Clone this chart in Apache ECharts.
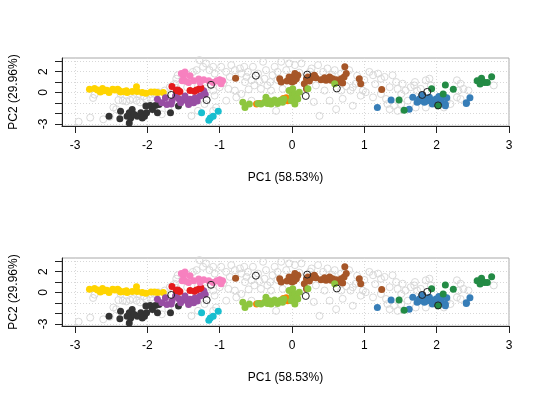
<!DOCTYPE html>
<html><head><meta charset="utf-8">
<script src="https://cdn.jsdelivr.net/npm/echarts@6/dist/echarts.min.js"></script>
<style>html,body{margin:0;padding:0;background:#fff}#c{width:540px;height:400px}</style>
</head><body><div id="c"></div>
<script>
const xTicks = [-3,-2,-1,0,1,2,3];
const yTicks = [-3,-2,-1,0,1,2,3];
const yLabelsShown = [-3,0,2];
const xName = 'PC1 (58.53%)';
const yName = 'PC2 (29.96%)';

const gray = [
[-2.95,-2.79],[-2.79,-2.40],[-2.75,-0.52],[-2.73,-0.2],[-2.61,-2.56],[-2.52,-2.33],[-2.47,-1.43],[-2.43,-1.59],[-2.40,-0.72],[-2.37,-0.14],[-2.34,-0.78],[-2.29,-0.85],[-2.24,-0.72],[-2.20,-0.62],[-2.15,-0.78],[-2.11,-0.14],[-2.10,-0.94],[-2.01,-0.62],[-1.96,-0.14],[-1.90,-0.14],[-1.85,0.03],[-1.76,0.19],[-1.69,0.51],[-1.62,0.84],[-1.60,1.32],[-1.58,1.65],[-1.48,1.65],[-1.44,1.49],[-1.37,1.97],[-1.32,2.14],[-1.28,3.1],[-1.23,2.46],[-1.19,2.78],[-1.14,2.14],[-1.09,2.46],[-1.07,1.81],[-1.12,0.68],[-1.09,0.19],[-1.07,-0.29],[-1.39,-2.23],[-1.30,-1.75],[-1.21,-1.10],[-1.09,-1.75],[-1.05,-1.43],[-1.71,-1.59],[-1.80,-2.08],
[-0.98,2.46],[-0.91,1.97],[-0.86,1.49],[-0.84,2.62],[-0.79,2.14],[-0.72,2.30],[-0.70,1.81],[-0.66,2.46],[-0.63,1.49],[-0.61,1.97],[-0.56,1.17],[-0.54,2.46],[-0.52,0.68],[-0.47,1.81],[-0.43,0.35],[-0.40,2.94],[-0.38,1.32],[-0.36,2.14],[-0.34,0.68],[-0.29,0.19],[-0.27,1.65],[-0.24,2.46],[-0.20,1.97],[-0.15,2.94],[-0.13,0.35],[-0.08,2.14],[-0.04,2.78],[-0.79,0.19],[-0.77,-0.46],[-0.70,-0.14],[-0.88,0.35],[-0.91,-0.78],[-0.56,-0.78],[-0.22,-1.75],
[0.04,2.62],[0.13,2.78],[0.27,2.30],[0.36,2.62],[0.43,1.97],[0.49,2.30],[0.59,2.14],[0.68,1.81],[0.79,2.14],[0.84,0.51],[0.88,0.84],[0.98,0.19],[1.02,0.03],[0.81,0.19],[0.33,0.68],[0.45,0.19],[0.52,-0.78],[0.61,-1.59],[0.84,-1.26],[0.38,-2.23],[0.68,0.19],
[1.07,1.97],[1.12,1.65],[1.19,1.81],[1.23,1.32],[1.28,1.49],[1.35,0.51],[1.39,1.65],[1.44,1.0],[1.46,0.35],[1.51,-0.14],[1.53,0.84],[1.57,0.19],[1.60,-0.78],[1.64,0.51],[1.69,0.68],[1.73,0.19],[1.78,0.35],[1.85,1.17],[1.90,1.32],[1.92,0.68],[1.12,-0.46],[1.23,-0.14],[1.30,-0.62],[1.32,-1.10],[1.35,-1.59],[1.41,-1.26],[1.46,-1.75],[1.51,-1.10],[1.71,-1.43],[2.10,-1.43],[1.85,-1.43],
[2.28,1.17],[2.33,0.84],[2.37,0.35],[2.44,0.19],[2.30,0.19],[2.28,-0.46],[2.33,-0.62],[2.19,-1.10],[2.14,-0.78],[2.79,0.68],[2.58,1.17],
[-1.45,0.5],[-1.3,0.6],[-1.2,0.4],[-1.0,0.5],[-0.95,0.9],[0.1,1.9],[0.25,2.0],[0.55,1.7],[0.9,1.6],[1.0,1.2],[0.75,0.6],[0.95,-0.3],[0.7,-0.6],[-0.65,1.0],[-0.45,1.1],[-0.2,1.2],[-0.3,1.0],
[-1.95,-0.5],[-1.75,-0.2],[-2.05,-0.35],[-1.6,0.45],[-0.6,0.3],[0.3,-0.9],[1.15,0.8],[1.7,1.0]
];

const yellow = [[-2.80,0.32],[-2.73,0.39],[-2.69,0.25],[-2.65,0.06],[-2.62,0.39],[-2.60,0.16],[-2.56,0.22],[-2.53,0.0],[-2.48,0.32],[-2.45,0.25],[-2.41,0.32],[-2.39,0.19],[-2.37,0.06],[-2.32,0.10],[-2.29,0.16],[-2.28,0.0],[-2.21,0.10],[-2.15,0.54],[-2.14,0.10],[-2.07,0.0],[-2.02,-0.07],[-1.95,0.06],[-1.90,0.06],[-1.86,0.0],[-1.78,0.0],[-1.59,-0.36]];
const black = [[-2.53,-2.27],[-2.37,-1.79],[-2.38,-2.50],[-2.28,-2.27],[-2.25,-1.94],[-2.21,-1.62],[-2.23,-2.43],[-2.18,-2.11],[-2.14,-2.27],[-2.09,-1.94],[-2.07,-2.43],[-2.04,-2.27],[-2.01,-1.94],[-2.02,-1.30],[-1.96,-1.23],[-1.93,-1.62],[-1.89,-1.23],[-1.86,-1.94],[-1.84,-1.14],[-1.68,-1.94],[-2.25,-2.91],[-1.57,-1.30]];
const purple = [[-1.86,-0.65],[-1.80,-0.97],[-1.75,-0.49],[-1.73,-1.14],[-1.66,-0.82],[-1.61,-0.33],[-1.57,-0.58],[-1.54,-0.97],[-1.50,-0.65],[-1.48,-0.33],[-1.45,-0.82],[-1.43,-1.14],[-1.41,-0.65],[-1.36,-0.97],[-1.34,-0.49],[-1.31,-0.82],[-1.27,-0.33],[-1.22,0.16],[-1.20,-0.17],[-1.67,-1.10]];
const red = [[-1.66,0.58],[-1.60,0.19],[-1.58,0.25],[-1.55,0.10],[-1.41,0.19],[-1.32,0.25],[-1.28,0.35],[-1.26,0.45],[-1.35,0.13],[-1.57,0.16]];
const pink = [[-1.50,1.61],[-1.52,1.13],[-1.43,0.97],[-1.41,1.61],[-1.36,1.13],[-1.29,1.29],[-1.27,0.97],[-1.22,1.22],[-1.15,1.13],[-1.09,0.97],[-1.04,1.13],[-1.0,1.22],[-0.96,1.13],[-0.98,0.83],[-1.48,1.10],[-1.53,1.81],[-1.48,1.97]];
const cyan = [[-1.25,-1.94],[-1.15,-2.66],[-1.13,-2.43],[-1.09,-2.27],[-1.02,-1.79]];
const brown = [[-0.78,1.36],[-0.17,1.32],[-0.15,1.0],[-0.07,1.1],[-0.04,1.49],[-0.01,1.32],[0.0,1.0],[0.01,1.49],[0.03,1.10],[0.06,1.32],[0.04,1.81],[0.08,1.65],[0.20,1.32],[0.22,1.49],[0.24,1.10],[0.27,1.42],[0.29,1.55],[0.31,1.65],[0.33,1.42],[0.40,1.22],[0.45,1.42],[0.47,1.17],[0.49,1.32],[0.52,1.49],[0.54,1.17],[0.56,1.32],[0.59,1.10],[0.61,1.22],[0.63,1.0],[0.65,1.10],[0.68,1.32],[0.70,0.90],[0.72,1.49],[0.73,2.46],[0.75,1.81],[0.93,1.32],[0.95,0.84],[0.20,0.35],[0.17,0.84],[1.24,0.29]];
const orange = [[-0.49,-1.10],[-0.45,-1.04],[-0.08,-0.62],[-0.06,-0.78],[-0.12,-0.58],[-0.08,-0.49],[0.07,-0.50]];
const yellowgreen = [[-0.68,-0.94],[-0.65,-1.43],[-0.59,-1.10],[-0.47,-1.04],[-0.43,-1.10],[-0.38,-0.94],[-0.36,-0.46],[-0.34,-1.04],[-0.31,-0.78],[-0.29,-1.10],[-0.27,-0.94],[-0.24,-0.72],[-0.22,-0.85],[-0.20,-1.04],[-0.17,-0.78],[-0.15,-0.72],[-0.13,-0.94],[-0.11,-0.62],[-0.04,0.19],[-0.01,-0.78],[0.0,-0.29],[0.01,0.35],[0.04,-0.14],[0.01,-0.62],[0.06,-0.46],[0.08,-0.62],[0.10,0.03],[0.04,-1.10],[0.22,0.35],[0.59,0.84]];
const blue = [[1.18,-1.43],[1.37,-0.72],[1.62,-1.59],[1.67,-0.46],[1.73,-0.94],[1.76,-0.62],[1.78,-0.78],[1.80,-0.29],[1.83,-0.94],[1.85,-0.62],[1.87,-0.78],[1.90,-0.46],[1.92,-0.72],[1.94,-1.10],[1.96,-0.78],[1.99,-0.62],[2.01,-0.78],[2.03,-0.39],[2.06,-0.94],[2.10,-0.46],[2.12,-1.10],[2.14,-0.49],[2.41,-0.97],[2.46,-0.49],[2.12,-1.26],[2.41,-1.04],[1.80,-0.23]];
const green = [[1.48,-0.72],[1.55,-1.69],[1.93,0.35],[2.09,-0.14],[2.02,-1.26],[2.12,0.71],[2.23,0.32],[2.56,1.13],[2.62,1.36],[2.66,0.97],[2.70,0.97],[2.76,1.51],[2.60,0.81]];
const openBlack = [[-1.67,-0.23],[-1.12,0.74],[-1.18,-0.72],[-0.50,1.61],[0.21,1.71],[0.19,-0.33],[0.62,0.39],[1.80,-0.23],[1.87,0.06],[2.02,-1.23]];

const groups = [
  {data: gray, color: '#d9d9d9', open: true},
  {data: yellow, color: '#FFD400'},
  {data: black, color: '#333333'},
  {data: purple, color: '#984EA3'},
  {data: red, color: '#E41A1C'},
  {data: pink, color: '#F781BF'},
  {data: cyan, color: '#17BECF'},
  {data: brown, color: '#A65628'},
  {data: orange, color: '#FF7F00'},
  {data: yellowgreen, color: '#8DC63F'},
  {data: blue, color: '#377EB8'},
  {data: green, color: '#238B45'},
  {data: openBlack, color: '#222222', open: true}
];

const font = '"Liberation Sans", Arial, Helvetica, sans-serif';
const panelTops = [58, 258];
const grids = [], xAxes = [], yAxes = [], series = [];
panelTops.forEach((top, i) => {
  grids.push({left: 59, right: 31, top: top, height: 68, show: true, borderColor: '#a8a8a8', borderWidth: 1, backgroundColor: 'transparent'});
  xAxes.push({
    gridIndex: i, type: 'value', min: -3.18, max: 3.0,
    name: xName, nameLocation: 'middle', nameGap: 46,
    nameTextStyle: {fontFamily: font, fontSize: 12, color: '#000'},
    axisLine: {show: true, onZero: false, lineStyle: {color: '#222', width: 1}},
    axisTick: {show: true, length: 7, customValues: xTicks, lineStyle: {color: '#222'}},
    axisLabel: {customValues: xTicks, margin: 14, fontFamily: font, fontSize: 12, color: '#000'},
    splitLine: {show: true, lineStyle: {color: '#d8d8d8', type: [1, 2], width: 1}}
  });
  yAxes.push({
    gridIndex: i, type: 'value', min: -3.2, max: 3.3,
    name: yName, nameLocation: 'middle', nameGap: 42,
    nameTextStyle: {fontFamily: font, fontSize: 12, color: '#000'},
    axisLine: {show: true, onZero: false, lineStyle: {color: '#222', width: 1}},
    axisTick: {show: true, length: 7, customValues: yTicks, lineStyle: {color: '#222'}},
    axisLabel: {customValues: yLabelsShown, rotate: 90, margin: 12, fontFamily: font, fontSize: 12, color: '#000'},
    splitLine: {show: true, lineStyle: {color: '#d8d8d8', type: [1, 2], width: 1}}
  });
  groups.forEach(g => {
    series.push({
      type: 'scatter', xAxisIndex: i, yAxisIndex: i, data: g.data,
      symbol: 'circle', symbolSize: 7, silent: true, animation: false,
      itemStyle: g.open ? {color: 'rgba(0,0,0,0)', borderColor: g.color, borderWidth: 1, opacity: 1}
                        : {color: g.color, opacity: 1}
    });
  });
});

const chart = echarts.init(document.getElementById('c'), null, {renderer: 'canvas'});
chart.setOption({
  backgroundColor: '#fff', animation: false,
  grid: grids, xAxis: xAxes, yAxis: yAxes, series: series
});
</script></body></html>
